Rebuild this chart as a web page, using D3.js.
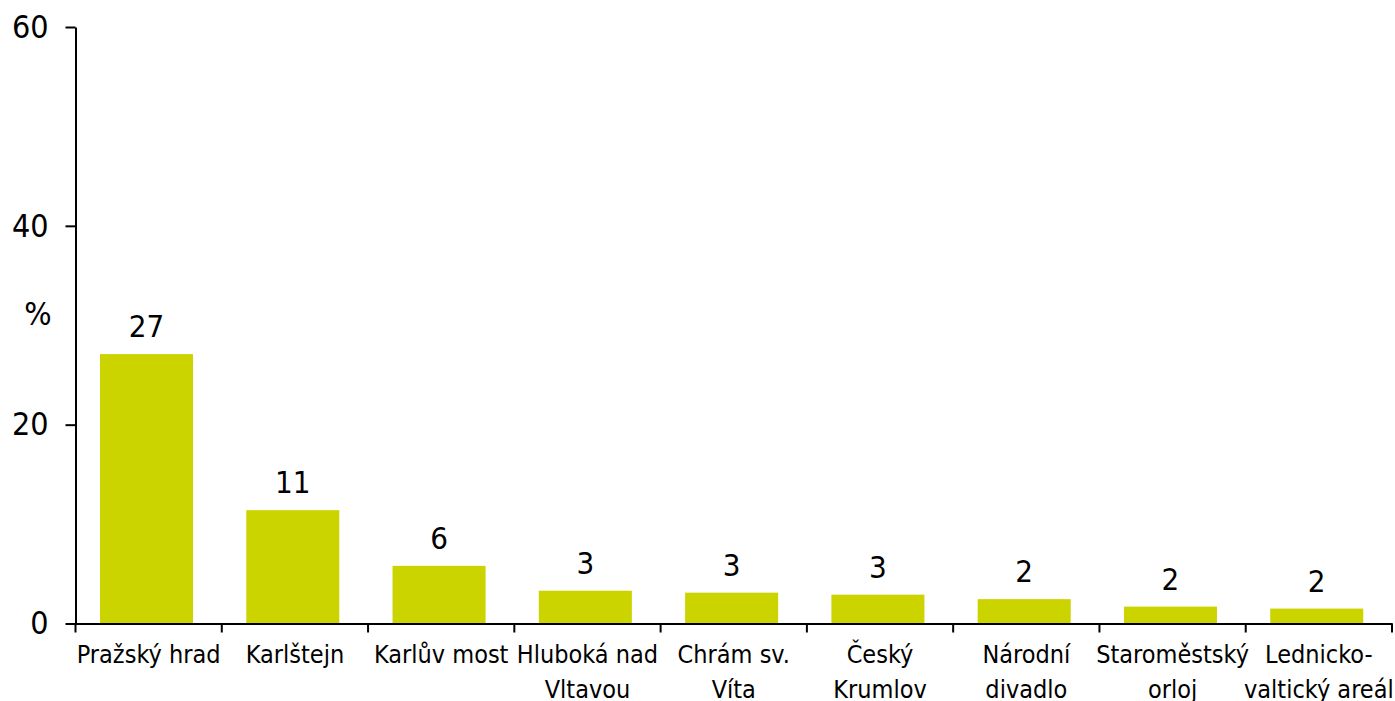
<!DOCTYPE html>
<html><head><meta charset="utf-8">
<script src="https://cdn.jsdelivr.net/npm/d3@7"></script>
<style>
html,body{margin:0;padding:0;background:#fff;}
svg{display:block;}
text{font-family:"DejaVu Sans Condensed","DejaVu Sans",sans-serif;fill:#000;}
</style></head>
<body>
<svg id="chart" width="1395" height="701"></svg>
<script>
const categories = ["Pražský hrad","Karlštejn","Karlův most","Hluboká nad\nVltavou","Chrám sv.\nVíta","Český\nKrumlov","Národní\ndivadlo","Staroměstský\norloj","Lednicko-\nvaltický areál"];
const values = [27.1, 11.4, 5.8, 3.3, 3.1, 2.9, 2.45, 1.7, 1.5];
const yTicks = [0, 20, 40, 60];
const yLabel = "%";

const svg = d3.select("#chart");
const mLeft = 75.5, mRight = 1392, mTop = 27, mBottom = 623.5;

const x = d3.scaleBand().domain(categories).range([mLeft, mRight]).paddingInner(0.364).paddingOuter(0.182).align(0.46);
const y = d3.scaleLinear().domain([0, 60]).range([mBottom, mTop]);

// bars
svg.append("g").selectAll("rect").data(values).join("rect")
  .attr("x", (d,i) => x(categories[i]))
  .attr("y", d => y(d))
  .attr("width", x.bandwidth())
  .attr("height", d => y(0) - y(d))
  .attr("fill", "#ccd400");

// value labels
svg.append("g").selectAll("text").data(values).join("text")
  .attr("x", (d,i) => x(categories[i]) + x.bandwidth()/2)
  .attr("y", d => y(d) - 17)
  .attr("text-anchor", "middle")
  .style("font-size", "31px")
  .text(d => d3.format(".0f")(d));

// y axis
const yAxis = svg.append("g").attr("transform", `translate(${mLeft},0)`)
  .call(d3.axisLeft(y).tickValues(yTicks).tickSize(10).tickSizeOuter(0).tickPadding(17));
yAxis.select(".domain").attr("stroke", "#000").attr("stroke-width", 2);
yAxis.selectAll(".tick line").attr("stroke", "#000").attr("stroke-width", 2);
yAxis.selectAll(".tick text").style("font-size", "32px").style("font-family", "'DejaVu Sans Condensed','DejaVu Sans',sans-serif").attr("fill", "#000");

// x axis
const xAxis = svg.append("g").attr("transform", `translate(0,${mBottom})`)
  .call(d3.axisBottom(x).tickSize(0).tickSizeOuter(0).tickFormat(""));
xAxis.select(".domain").attr("stroke", "#000").attr("stroke-width", 2);
const step = x.step();
const bounds = d3.range(categories.length + 1).map(i => mLeft + i * step);
svg.append("g").selectAll("line").data(bounds).join("line")
  .attr("x1", d => d).attr("x2", d => d)
  .attr("y1", mBottom).attr("y2", mBottom + 9)
  .attr("stroke", "#000").attr("stroke-width", 2);

// category labels
const lab = svg.append("g").selectAll("text").data(categories).join("text")
  .attr("x", d => mLeft + categories.indexOf(d) * step + step/2)
  .attr("y", 663)
  .attr("text-anchor", "middle")
  .style("font-size", "25px");
lab.each(function(d){
  const t = d3.select(this);
  const cx = mLeft + categories.indexOf(d) * step + step/2;
  d.split("\n").forEach((line, i) => {
    t.append("tspan").attr("x", cx).attr("dy", i === 0 ? 0 : 35).text(line);
  });
});

// y label
svg.append("text").attr("x", 38).attr("y", 325).attr("text-anchor", "middle")
  .style("font-size", "32px").text(yLabel);
</script>
</body></html>
